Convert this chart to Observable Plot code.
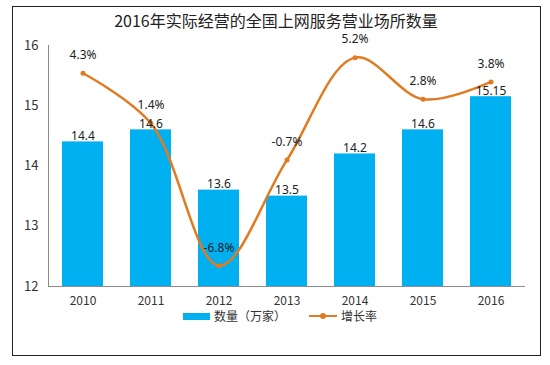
<!DOCTYPE html>
<html>
<head>
<meta charset="utf-8">
<script src="https://cdn.jsdelivr.net/npm/d3@7"></script>
<script src="https://cdn.jsdelivr.net/npm/@observablehq/plot@0.6"></script>
<style>
  body { margin: 0; background: #fff; font-family: "Noto Sans CJK SC", "Noto Sans", sans-serif; }
  #wrap { position: relative; width: 550px; height: 365px; }
  #border { position: absolute; left: 12px; top: 6px; width: 529px; height: 350px; border: 1px solid #222; box-sizing: border-box; }
  #title { position: absolute; left: 12px; width: 528px; top: 8px; text-align: center; font-size: 16px; color: #222; }
  #chart { position: absolute; left: 0; top: 0; }
  #legend { position: absolute; top: 309px; left: 0; width: 550px; font-size: 12px; line-height: 14px; color: #333; }
  .lg { position: absolute; display: flex; align-items: center; }
  .sw { width: 27px; height: 7px; background: #00B0F0; margin-right: 4px; }
  .ln { position: relative; width: 28px; height: 2.5px; background: #E07B22; margin-right: 4px; }
  .ln::after { content: ""; position: absolute; left: 11px; top: -2px; width: 6px; height: 6px; border-radius: 3px; background: #E07B22; }
</style>
</head>
<body>
<div id="wrap">
  <div id="border"></div>
  <div id="title">2016年实际经营的全国上网服务营业场所数量</div>
  <div id="chart"></div>
  <div id="legend">
    <div class="lg" style="left:183px"><div class="sw"></div><span>数量（万家）</span></div>
    <div class="lg" style="left:309px"><div class="ln"></div><span>增长率</span></div>
  </div>
</div>
<script>
const years = ["2010", "2011", "2012", "2013", "2014", "2015", "2016"];
const counts = [14.4, 14.6, 13.6, 13.5, 14.2, 14.6, 15.15];
const growth = [4.3, 1.4, -6.8, -0.7, 5.2, 2.8, 3.8];
const countLabels = ["14.4", "14.6", "13.6", "13.5", "14.2", "14.6", "15.15"];
const growthLabels = ["4.3%", "1.4%", "-6.8%", "-0.7%", "5.2%", "2.8%", "3.8%"];
const yTicks = [12, 13, 14, 15, 16];

// secondary axis (hidden) for growth, mapped onto primary domain
const gMin = -8, gMax = 5.9, yMin = 12, yMax = 16;
const toPrimary = g => yMin + (g - gMin) * (yMax - yMin) / (gMax - gMin);

const data = years.map((y, i) => ({
  year: y, count: counts[i], growth: growth[i],
  gy: toPrimary(growth[i]), cl: countLabels[i], gl: growthLabels[i]
}));

const chart = Plot.plot({
  width: 550,
  height: 365,
  marginTop: 45,
  marginBottom: 79,
  marginLeft: 48,
  marginRight: 25,
  style: { fontFamily: '"Noto Sans CJK SC", "Noto Sans", sans-serif', fontSize: "12px", color: "#333", background: "transparent" },
  x: { domain: years, paddingInner: 0.4, paddingOuter: 0.2, label: null },
  y: { domain: [yMin, yMax], label: null },
  marks: [
    Plot.barY(data, { x: "year", y1: yMin, y2: "count", fill: "#00B0F0" }),
    Plot.ruleY([yMin], { stroke: "#8c8c8c", strokeWidth: 1 }),
    Plot.frame({ anchor: "left", stroke: "#8c8c8c" }),
    Plot.axisY({ ticks: yTicks, tickSize: 0, tickPadding: 10, tickFormat: d => String(d), fontSize: 13, color: "#333" }),
    Plot.axisX({ tickSize: 0, tickPadding: 10, fontSize: 12, color: "#333" }),
    Plot.line(data, { x: "year", y: "gy", curve: "catmull-rom", stroke: "#E07B22", strokeWidth: 2.5 }),
    Plot.dot(data, { x: "year", y: "gy", r: 2.5, fill: "#E07B22" }),
    Plot.text(data, { x: "year", y: "count", text: "cl", dy: -6, fill: "#222", fontSize: 12, fontFamily: '"Noto Sans", sans-serif' }),
    Plot.text(data, { x: "year", y: "gy", text: "gl", dy: -18, fill: "#222", fontSize: 12, fontFamily: '"Noto Sans", sans-serif' })
  ]
});
document.getElementById("chart").appendChild(chart);
</script>
</body>
</html>
